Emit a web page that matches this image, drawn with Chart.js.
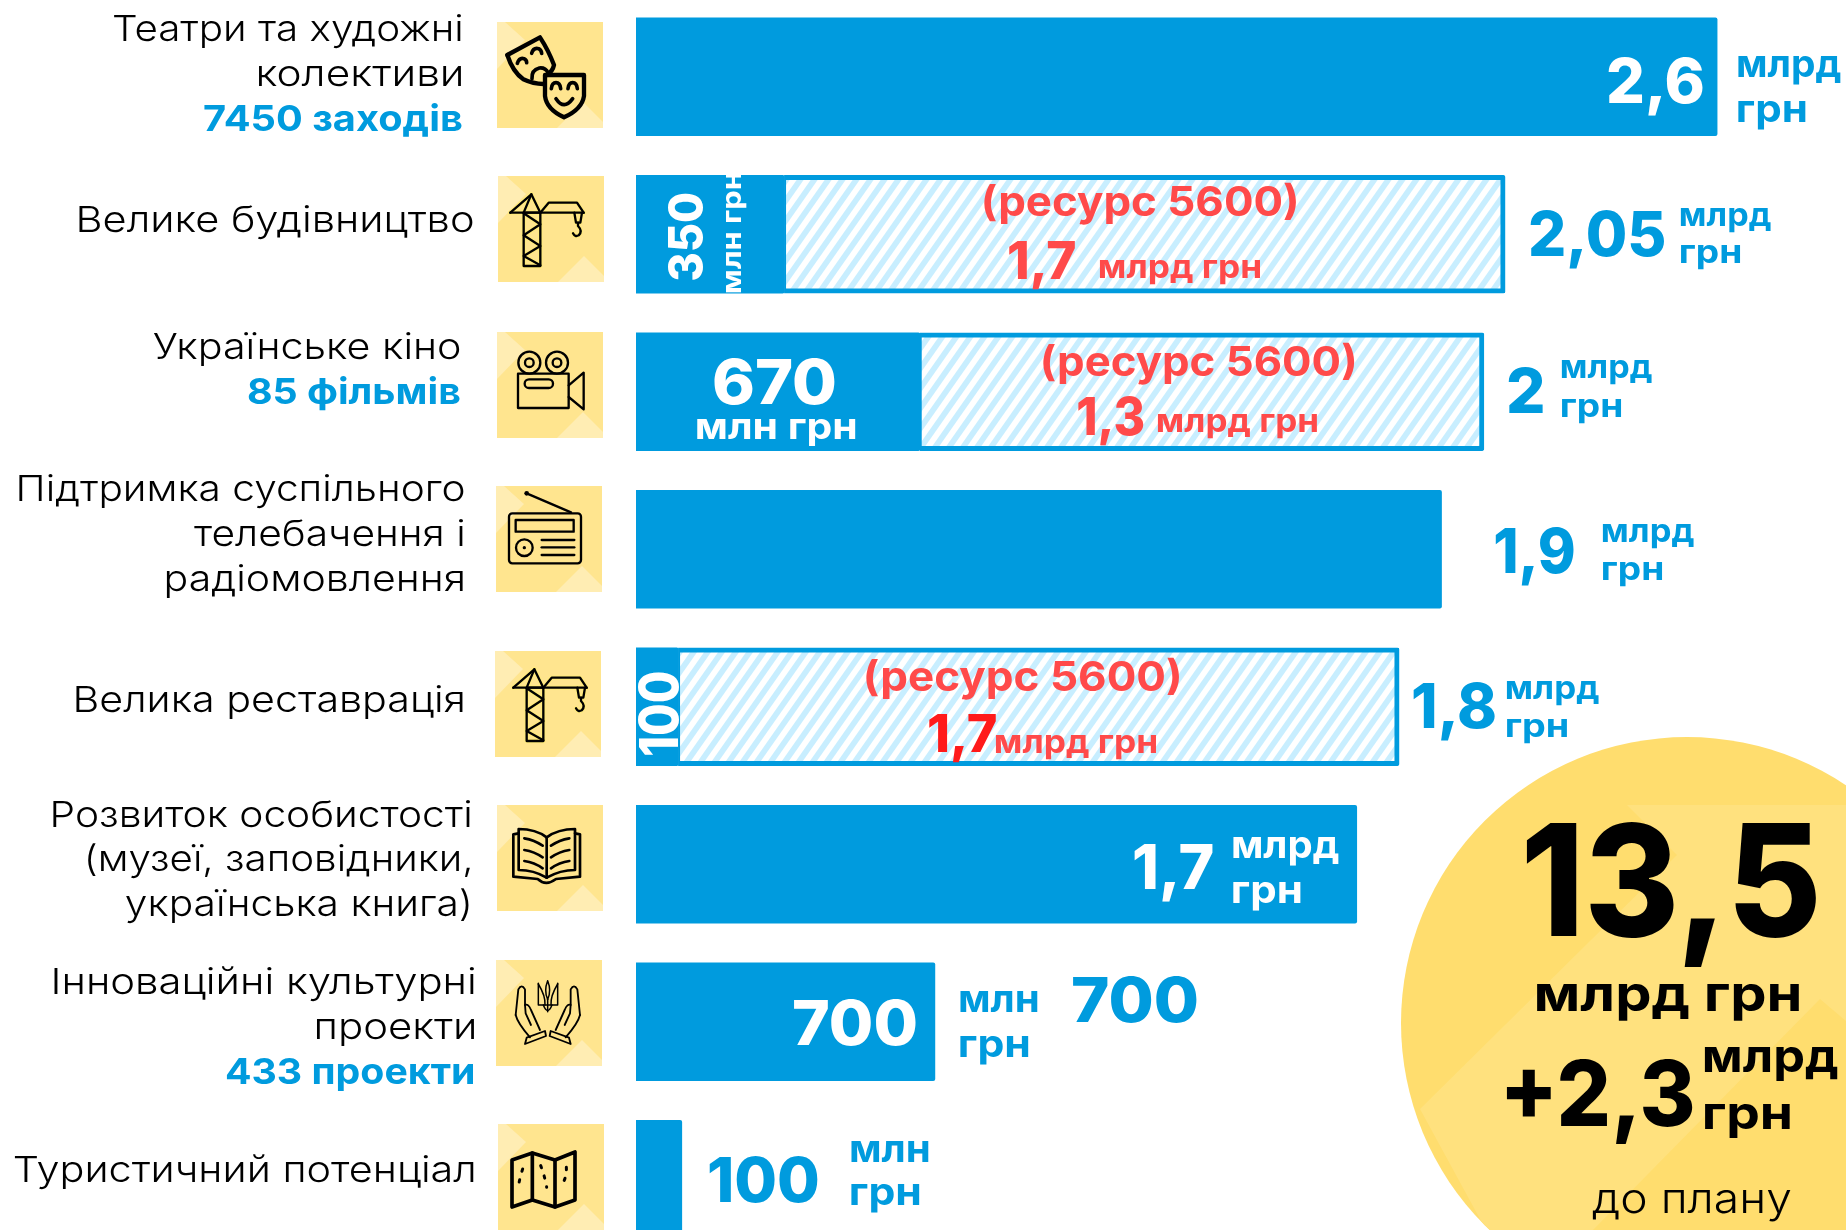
<!DOCTYPE html>
<html lang="uk">
<head>
<meta charset="utf-8">
<title>Бюджет культури</title>
<script src="https://cdn.jsdelivr.net/npm/chart.js@4"></script>
<style>
html,body{margin:0;padding:0;background:#fff;overflow:hidden}
#frame{position:relative;width:1846px;height:1230px;overflow:hidden;background:#fff}
#wrap{position:absolute;left:0;top:-2px;width:1846px;height:1260px}
</style>
</head>
<body>
<div id="frame"><div id="wrap"><canvas id="c" width="1846" height="1260"></canvas></div></div>
<script>
// ---- chart data (billions of UAH, bar lengths) ----
const categories = [
  "Театри та художні колективи",
  "Велике будівництво",
  "Українське кіно",
  "Підтримка суспільного телебачення і радіомовлення",
  "Велика реставрація",
  "Розвиток особистості (музеї, заповідники, українська книга)",
  "Інноваційні культурні проекти",
  "Туристичний потенціал"
];
const fundedValues  = [2.55, 0.35, 0.67, 1.9, 0.1, 1.7, 0.705, 0.108];
const reserveValues = [null, 1.7, 1.33, null, 1.7, null, null, null];
const axisMax = 2.854;

// ---- colours ----
const BLUE = "#009bde", RED = "#ff4a4a", PURE = "#ff1a1a", BLACK = "#000", WHITE = "#fff";
const SQ = "#ffe58f", SQ_LIGHT = "#ffedb3", DISC = "#ffdd6e", DISC_LIGHT = "#ffe17e";
const FAMILY = "Inter, 'Noto Sans', sans-serif";

// ---- text: string, weight, size, colour, left, right, baseline ----
const textRows = [
  ["Театри та художні",300,36,BLACK,113,461,41],
  ["колективи",300,36,BLACK,259,461,86],
  ["7450 заходів",700,36,BLUE,204,462,131],
  ["Велике будівництво",300,36,BLACK,79,473,232],
  ["Українське кіно",300,36,BLACK,154,460,359],
  ["85 фільмів",700,36,BLUE,248,460,404],
  ["Підтримка суспільного",300,36,BLACK,19,464,501],
  ["телебачення і",300,36,BLACK,194,463,546],
  ["радіомовлення",300,36,BLACK,167,463,591],
  ["Велика реставрація",300,36,BLACK,76,463,712],
  ["Розвиток особистості",300,36,BLACK,53,470,827],
  ["(музеї, заповідники,",300,36,BLACK,87,470,871],
  ["українська книга)",300,36,BLACK,126,469,916],
  ["Інноваційні культурні",300,36,BLACK,54,474,994],
  ["проекти",300,36,BLACK,317,474,1039],
  ["433 проекти",700,36,BLUE,226,474,1084],
  ["Туристичний потенціал",300,36,BLACK,14,474,1182],

  ["2,6",800,62,WHITE,1608,1703,103],
  ["млрд",700,38,BLUE,1738,1841,77],
  ["грн",700,38,BLUE,1738,1806,122],

  ["(ресурс 5600)",700,41,RED,984,1297,216],
  ["1,7",800,52,RED,1009,1075,279],
  ["млрд грн",700,32,RED,1100,1260,278],
  ["2,05",800,62,BLUE,1530,1664,256],
  ["млрд",700,32,BLUE,1681,1771,226],
  ["грн",700,32,BLUE,1681,1740,263],

  ["670",800,62,WHITE,714,835,404],
  ["млн грн",700,36,WHITE,697,856,439],
  ["(ресурс 5600)",700,41,RED,1043,1355,376],
  ["1,3",800,52,RED,1078,1144,435],
  ["млрд грн",700,32,RED,1158,1317,432],
  ["2",800,62,BLUE,1508,1543,413],
  ["млрд",700,32,BLUE,1562,1652,378],
  ["грн",700,32,BLUE,1562,1621,417],

  ["1,9",800,62,BLUE,1495,1574,573],
  ["млрд",700,32,BLUE,1603,1694,542],
  ["грн",700,32,BLUE,1603,1662,580],

  ["(ресурс 5600)",700,41,RED,866,1180,691],
  ["1,7",800,52,PURE,929,996,752],
  ["млрд грн",700,32,RED,996,1156,753],
  ["1,8",800,62,BLUE,1413,1495,728],
  ["млрд",700,32,BLUE,1507,1599,699],
  ["грн",700,32,BLUE,1507,1567,737],

  ["1,7",800,62,WHITE,1134,1213,889],
  ["млрд",700,38,WHITE,1233,1339,858],
  ["грн",700,38,WHITE,1233,1301,903],

  ["700",800,62,WHITE,793,916,1045],
  ["млн",700,38,BLUE,960,1038,1012],
  ["грн",700,38,BLUE,960,1029,1057],
  ["700",800,62,BLUE,1072,1197,1022],

  ["100",800,62,BLUE,709,818,1202],
  ["млн",700,38,BLUE,851,929,1162],
  ["грн",700,38,BLUE,851,920,1205],

  ["13,5",800,155,BLACK,1526,1816,936],
  ["млрд грн",700,50,BLACK,1537,1800,1011],
  ["+2,3",800,91,BLACK,1506,1693,1126],
  ["млрд",700,46,BLACK,1704,1838,1072],
  ["грн",700,46,BLACK,1704,1790,1129],
  ["до плану",300,41,BLACK,1592,1791,1213]
];
// rotated text: string, weight, size, colour, bottom y, top y, baseline x
const verticalRows = [
  ["350",800,48,WHITE,280,193,703],
  ["млн грн",700,27,WHITE,293,172,741],
  ["100",800,53,WHITE,755,672,678]
];

// ---- icon tiles: kind, left, top, icon dx, icon dy ----
const tiles = [
  ["masks",497,22,-17,-12],
  ["crane",498,176,-1,0],
  ["camera",497,332,0,0],
  ["radio",496,486,-1,-1],
  ["crane",495,651,5,0],
  ["book",497,805,-1,0],
  ["hands",496,960,-1,0],
  ["map",498,1124,0,0]
];

function stripes(){
  const t = document.createElement("canvas");
  t.width = 14; t.height = 20;
  const g = t.getContext("2d");
  g.fillStyle = "#fff"; g.fillRect(0,0,14,20);
  g.fillStyle = "#c8eeff";
  [0,-14,14].forEach(o=>{
    g.beginPath();
    g.moveTo(o,20); g.lineTo(o+7,20); g.lineTo(o+21,0); g.lineTo(o+14,0);
    g.closePath(); g.fill();
  });
  return g.createPattern(t,"repeat");
}

function fitText(ctx,s,weight,size,color,x0,x1,y,vertical){
  ctx.save();
  ctx.font = `${weight} ${size}px ${FAMILY}`;
  ctx.fillStyle = color;
  ctx.textBaseline = "alphabetic";
  ctx.textAlign = "left";
  const m = ctx.measureText(s);
  const inkL = m.actualBoundingBoxLeft, inkW = m.actualBoundingBoxLeft + m.actualBoundingBoxRight;
  if(vertical){
    const k = (x0-x1)/inkW;
    ctx.translate(y,x0); ctx.rotate(-Math.PI/2); ctx.scale(k,1);
    ctx.fillText(s,inkL,0);
  }else{
    const k = (x1-x0)/inkW;
    ctx.translate(x0,y); ctx.scale(k,1);
    ctx.fillText(s,inkL,0);
  }
  ctx.restore();
}

function L(ctx,pts,close){
  ctx.beginPath();
  pts.forEach((p,i)=> i?ctx.lineTo(p[0],p[1]):ctx.moveTo(p[0],p[1]));
  if(close) ctx.closePath();
  ctx.stroke();
}
function P(ctx,d){ ctx.stroke(new Path2D(d)); }
function C(ctx,x,y,r){ ctx.beginPath(); ctx.arc(x,y,r,0,Math.PI*2); ctx.stroke(); }

const icons = {
  masks(c){
    c.lineWidth = 13;
    P(c,"M82 135 L180 82 Q205 120 222 165 Q218 185 200 195");
    P(c,"M82 135 Q98 185 130 208 Q160 222 190 222");
    c.lineWidth = 11;
    P(c,"M112 160 Q118 142 132 146 Q140 150 140 158");
    P(c,"M155 130 Q160 112 176 116 Q184 120 185 130");
    P(c,"M156 206 Q154 180 178 174 Q196 172 204 188");
    c.lineWidth = 13;
    P(c,"M195 195 L312 195 L312 258 Q306 298 252 322 Q200 298 195 258 Z");
    c.lineWidth = 11;
    P(c,"M214 236 Q216 218 228 218 Q240 218 242 236");
    P(c,"M264 236 Q266 218 278 218 Q290 218 292 236");
    P(c,"M228 266 Q252 302 278 266");
  },
  crane(c){
    c.save();
    c.strokeStyle = "rgba(255,235,120,.9)"; c.lineWidth = 13; craneLines(c); c.restore();
    c.lineWidth = 7; craneLines(c);
  },
  camera(c){
    c.lineWidth = 7;
    C(c,97,92,33); C(c,97,92,13); C(c,180,92,33); C(c,180,92,13);
    c.strokeRect(63,125,152,103);
    c.beginPath(); c.roundRect(83,142,85,26,13); c.stroke();
    L(c,[[215,160],[260,122],[260,232],[215,195]]);
  },
  radio(c){
    c.lineWidth = 7;
    c.beginPath(); c.roundRect(42,85,216,150,10); c.stroke();
    c.strokeRect(62,105,174,35);
    C(c,88,188,25);
    L(c,[[140,165],[238,165]]); L(c,[[140,187],[238,187]]); L(c,[[140,210],[238,210]]);
    L(c,[[95,25],[228,82]]);
    c.fillStyle = "#000";
    c.beginPath(); c.arc(95,25,7,0,7); c.fill();
    c.beginPath(); c.arc(88,188,5,0,7); c.fill();
  },
  book(c){
    c.lineWidth = 8;
    P(c,"M152 97 C130 80 100 72 68 72 L68 195 C100 195 130 205 152 218");
    P(c,"M152 97 C175 80 205 72 237 72 L237 195 C205 195 175 205 152 218");
    L(c,[[152,97],[152,218]]);
    P(c,"M68 85 L52 88 L52 215 L125 222 Q150 245 180 222 L252 215 L252 88 L237 85");
    P(c,"M85 100 Q115 105 140 122"); P(c,"M85 135 Q115 140 140 157"); P(c,"M85 168 Q115 172 140 190");
    P(c,"M220 100 Q190 105 165 122"); P(c,"M220 135 Q190 140 165 157"); P(c,"M220 168 Q190 172 165 190");
  },
  hands(c){
    c.lineWidth = 5.5;
    [0,1].forEach(m=>{
      c.save();
      if(m){ c.translate(317,0); c.scale(-1,1); }
      P(c,"M62 165 L70 88 Q80 70 90 88 L90 135 Q100 130 108 150 L135 210");
      P(c,"M62 165 Q68 190 105 232");
      P(c,"M90 135 L92 160 L108 195");
      L(c,[[95,233],[150,213],[153,228],[90,252]],true);
      c.restore();
    });
    c.lineWidth = 4.5;
    L(c,[[130,70],[130,135],[188,135],[188,70]]);
    P(c,"M130 72 Q152 108 150 135"); P(c,"M188 72 Q166 108 168 135");
    P(c,"M158 62 Q146 92 158 118 Q170 92 158 62");
    P(c,"M145 135 Q158 168 171 135"); L(c,[[158,118],[158,155]]);
  },
  map(c){
    c.lineWidth = 11;
    L(c,[[42,108],[103,87],[171,108],[231,84],[231,228],[171,249],[103,228],[42,249]],true);
    L(c,[[103,87],[103,228]]); L(c,[[171,108],[171,249]]);
    c.lineWidth = 9; c.setLineDash([7,26]);
    P(c,"M74 135 Q64 165 60 195");
    P(c,"M128 125 Q140 155 146 190");
    P(c,"M205 130 Q207 160 190 185");
    c.setLineDash([]);
  }
};
function craneLines(c){
  c.strokeRect(80,110,50,160);
  L(c,[[80,112],[130,145],[80,178],[130,210],[80,240],[130,268]]);
  L(c,[[40,110],[260,110]]);
  L(c,[[40,110],[103,55],[130,110]]); L(c,[[103,55],[80,110]]);
  L(c,[[130,110],[155,80],[240,80],[260,110]]);
  L(c,[[232,110],[237,140],[250,140],[255,110]]);
  P(c,"M243 140 L243 150 Q258 165 245 178 Q234 184 228 172");
}

const decorPlugin = {
  id: "decor",
  beforeDatasetsDraw(chart){
    const ctx = chart.ctx;
    ctx.save();
    ctx.translate(0,2);
    // disc
    ctx.save();
    ctx.beginPath(); ctx.arc(1687,1023,286,0,Math.PI*2); ctx.closePath();
    ctx.fillStyle = DISC; ctx.fill(); ctx.clip();
    ctx.fillStyle = DISC_LIGHT;
    ctx.beginPath();
    [[1627,805],[1846,805],[1846,1021],[1820,999],[1593,1230],[1486,1230],[1420,1109],[1677,855]]
      .forEach((p,i)=> i?ctx.lineTo(p[0],p[1]):ctx.moveTo(p[0],p[1]));
    ctx.closePath(); ctx.fill();
    ctx.restore();
    // icon tiles
    tiles.forEach(([kind,x,y,dx,dy])=>{
      ctx.save();
      ctx.translate(x,y);
      ctx.fillStyle = SQ; ctx.fillRect(0,0,106,106);
      ctx.fillStyle = SQ_LIGHT;
      ctx.beginPath(); ctx.moveTo(0,0); ctx.lineTo(8,0); ctx.lineTo(28,18); ctx.lineTo(0,47); ctx.closePath(); ctx.fill();
      ctx.beginPath(); ctx.moveTo(60,106); ctx.lineTo(86,80); ctx.lineTo(106,100); ctx.lineTo(106,106); ctx.closePath(); ctx.fill();
      ctx.translate(dx,dy);
      ctx.scale(1/3,1/3);
      ctx.strokeStyle = "#000"; ctx.lineJoin = "round"; ctx.lineCap = "round";
      icons[kind](ctx);
      ctx.restore();
    });
    ctx.restore();
  },
  afterDatasetsDraw(chart){
    const ctx = chart.ctx;
    ctx.save();
    ctx.translate(0,2);
    textRows.forEach(r=>fitText(ctx,r[0],r[1],r[2],r[3],r[4],r[5],r[6],false));
    verticalRows.forEach(r=>fitText(ctx,r[0],r[1],r[2],r[3],r[4],r[5],r[6],true));
    ctx.restore();
  }
};

new Chart(document.getElementById("c"),{
  type:"bar",
  data:{
    labels:categories,
    datasets:[
      {label:"Кошти",data:fundedValues,backgroundColor:BLUE,borderWidth:0,
       borderRadius:{topRight:2,bottomRight:2}},
      {label:"Ресурс",data:reserveValues,backgroundColor:stripes(),borderColor:BLUE,
       borderWidth:{top:5,right:5,bottom:5,left:2},borderSkipped:false,
       borderRadius:{topRight:2,bottomRight:2}}
    ]
  },
  options:{
    indexAxis:"y",
    responsive:false,
    animation:false,
    events:[],
    layout:{padding:{left:636,right:0,top:0,bottom:0}},
    datasets:{bar:{barThickness:118}},
    plugins:{legend:{display:false},tooltip:{enabled:false}},
    scales:{
      x:{stacked:true,display:false,min:0,max:axisMax},
      y:{stacked:true,display:false}
    }
  },
  plugins:[decorPlugin]
});
</script>
</body>
</html>
